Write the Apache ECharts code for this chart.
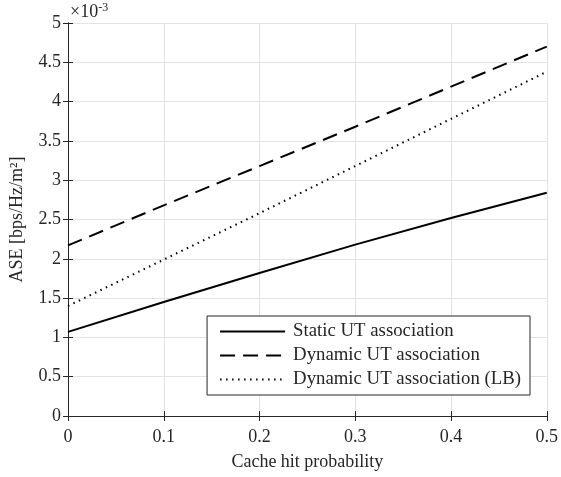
<!DOCTYPE html>
<html>
<head>
<meta charset="utf-8">
<script src="https://cdn.jsdelivr.net/npm/echarts@6/dist/echarts.min.js"></script>
<style>
  html, body { margin: 0; padding: 0; background: #fff; }
  #container { width: 561px; height: 477px; }
</style>
</head>
<body>
<div id="container"></div>
<script>
// cache hit probability
const hitProb = [0, 0.1, 0.2, 0.3, 0.4, 0.5];
// ASE values, x 10^-3
const staticUT = [1.07, 1.45, 1.82, 2.18, 2.52, 2.84];
const dynamicUT = [2.17, 2.68, 3.18, 3.68, 4.19, 4.70];
const dynamicLB = [1.40, 1.99, 2.58, 3.18, 3.78, 4.38];

const font = "Liberation Serif";
const ink = "#262626";

let dom = document.getElementById("container");
let myChart = echarts.init(dom, null, { renderer: "canvas" });

const pairs = (ys) => hitProb.map((x, i) => [x, ys[i]]);

let option = {
  animation: false,
  textStyle: { fontFamily: font, color: ink },
  grid: { left: 68, right: 11, top: 23, bottom: 61 },
  legend: {
    orient: "vertical",
    right: 31,
    bottom: 82,
    padding: [6, 9, 6, 12],
    itemGap: 5,
    itemWidth: 65,
    itemHeight: 18,
    borderColor: ink,
    borderWidth: 1,
    backgroundColor: "#fff",
    itemStyle: { opacity: 0, borderWidth: 0 },
    textStyle: { fontFamily: font, fontSize: 18.8, color: ink, padding: [0, 0, 0, 3] },
    data: ["Static UT association", "Dynamic UT association", "Dynamic UT association (LB)"],
  },
  graphic: [
    {
      type: "text",
      left: 70,
      top: 2,
      style: {
        text: "{a|×10}{b|-3}",
        rich: {
          a: { fontFamily: font, fontSize: 18, fill: ink },
          b: { fontFamily: font, fontSize: 12, fill: ink, verticalAlign: "top", padding: [0, 0, 9, 0] },
        },
      },
    },
  ],
  xAxis: [
    {
      type: "value",
      min: 0,
      max: 0.5,
      interval: 0.1,
      name: "Cache hit probability",
      nameLocation: "middle",
      nameGap: 37,
      nameTextStyle: { fontFamily: font, fontSize: 18, color: ink },
      axisLine: { lineStyle: { color: ink, width: 1 } },
      axisTick: { inside: true, length: 5, lineStyle: { color: ink } },
      axisLabel: { fontFamily: font, fontSize: 18, color: ink, margin: 12 },
      splitLine: { show: true, lineStyle: { color: "#e3e3e3", width: 1 } },
    },
    {
      type: "value",
      position: "top",
      min: 0,
      max: 0.5,
      interval: 0.1,
      axisLine: { show: true, lineStyle: { color: ink, width: 1 } },
      axisTick: { show: true, inside: true, length: 5, lineStyle: { color: ink } },
      axisLabel: { show: false },
      splitLine: { show: false },
    },
  ],
  yAxis: [
    {
      type: "value",
      min: 0,
      max: 5,
      interval: 0.5,
      name: "ASE [bps/Hz/m²]",
      nameLocation: "middle",
      nameGap: 42,
      nameRotate: 90,
      nameTextStyle: { fontFamily: font, fontSize: 18, color: ink },
      axisLine: { show: true, lineStyle: { color: ink, width: 1 } },
      axisTick: { show: true, inside: true, length: 5, lineStyle: { color: ink } },
      axisLabel: { fontFamily: font, fontSize: 18, color: ink, margin: 7 },
      splitLine: { show: true, lineStyle: { color: "#e3e3e3", width: 1 } },
    },
    {
      type: "value",
      position: "right",
      min: 0,
      max: 5,
      interval: 0.5,
      axisLine: { show: true, lineStyle: { color: ink, width: 1 } },
      axisTick: { show: true, inside: true, length: 5, lineStyle: { color: ink } },
      axisLabel: { show: false },
      splitLine: { show: false },
    },
  ],
  series: [
    {
      name: "Static UT association",
      type: "line",
      data: pairs(staticUT),
      symbol: "none",
      lineStyle: { color: "#000", width: 2, type: "solid" },
      itemStyle: { color: "#000" },
    },
    {
      name: "Dynamic UT association",
      type: "line",
      data: pairs(dynamicUT),
      symbol: "none",
      lineStyle: { color: "#000", width: 2, type: [15, 8] },
      itemStyle: { color: "#000" },
    },
    {
      name: "Dynamic UT association (LB)",
      type: "line",
      data: pairs(dynamicLB),
      symbol: "none",
      lineStyle: { color: "#000", width: 2, type: [1.5, 4.5] },
      itemStyle: { color: "#000" },
    },
  ],
};

if (option && typeof option === "object") {
  myChart.setOption(option);
}

window.addEventListener("resize", myChart.resize);
</script>
</body>
</html>
